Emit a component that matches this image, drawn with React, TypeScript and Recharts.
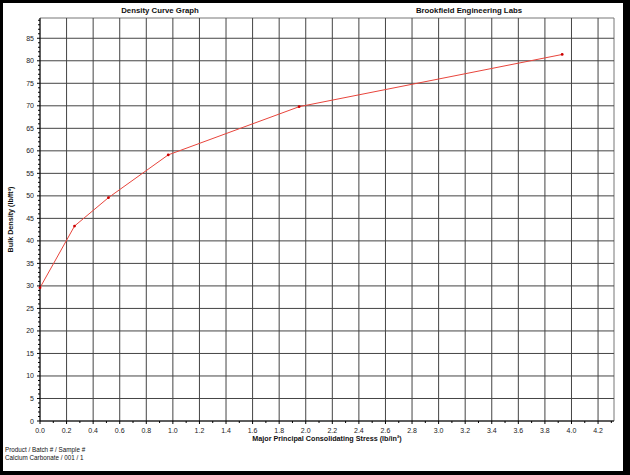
import React from 'react';
import { LineChart, Line, XAxis, YAxis, ReferenceLine, ReferenceArea, Label } from 'recharts';

const stress = [0, 0.26, 0.515, 0.965, 1.95, 3.93];
const density = [29.6, 43.3, 49.6, 59.1, 69.8, 81.4];

const xMajorTicks = [0, 0.2, 0.4, 0.6, 0.8, 1.0, 1.2, 1.4, 1.6, 1.8, 2.0, 2.2, 2.4, 2.6, 2.8, 3.0, 3.2, 3.4, 3.6, 3.8, 4.0, 4.2];
const yMajorTicks = [0, 5, 10, 15, 20, 25, 30, 35, 40, 45, 50, 55, 60, 65, 70, 75, 80, 85];

const X_MAX = 4.32;
const Y_MAX = 89.5;

// minor ticks sit between the labelled ones
const xTicks = xMajorTicks.flatMap((v) => [v, Math.round((v + 0.1) * 10) / 10]);
const yTicks = yMajorTicks.flatMap((v) => [v, v + 1, v + 2, v + 3, v + 4]);

const data = stress.map((s, i) => ({ stress: s, density: density[i] }));

const FONT = '"Liberation Sans", Arial, sans-serif';

const XTick = (props: any) => {
  const { x, y, payload } = props;
  const v = payload.value as number;
  const major = Math.round(v * 10) % 2 === 0;
  return (
    <g>
      <line x1={x} x2={x} y1={y} y2={y + (major ? 3 : 2)} stroke="#000" strokeWidth={1} />
      {major && (
        <text x={x} y={y + 11.5} textAnchor="middle" fontSize={7} fontFamily={FONT} fill="#222">
          {v.toFixed(1)}
        </text>
      )}
    </g>
  );
};

const YTick = (props: any) => {
  const { x, y, payload } = props;
  const v = payload.value as number;
  const major = v % 5 === 0;
  return (
    <g>
      <line x1={x - (major ? 3 : 2)} x2={x} y1={y} y2={y} stroke="#000" strokeWidth={1} />
      {major && (
        <text x={x - 6} y={y + 2.5} textAnchor="end" fontSize={7} fontFamily={FONT} fill="#222">
          {v}
        </text>
      )}
    </g>
  );
};

const App: React.FC = () => {
  return (
    <div style={{ position: 'absolute', left: 0, top: 0, width: 630, height: 475, background: '#000', fontFamily: FONT }}>
      <div style={{ position: 'absolute', left: 3, top: 3, width: 620, height: 468, background: '#fff' }} />
      <div style={{ position: 'absolute', left: 0, top: 0 }}>
        <LineChart width={630} height={475} data={data} margin={{ top: 18, right: 16, left: 0, bottom: 0 }}>
          <XAxis
            xAxisId={0}
            type="number"
            dataKey="stress"
            domain={[0, X_MAX]}
            ticks={xTicks}
            interval={0}
            height={54}
            tickSize={0}
            tickMargin={0}
            tickLine={false}
            tick={XTick}
            axisLine={{ stroke: '#000' }}
          >
            <Label
              value="Major Principal Consolidating Stress (lb/in²)"
              position="insideTop"
              offset={15}
              style={{ fontSize: 7.2, fontWeight: 'bold', fontFamily: FONT, fill: '#111' }}
            />
          </XAxis>
          <YAxis
            yAxisId={0}
            type="number"
            domain={[0, Y_MAX]}
            ticks={yTicks}
            interval={0}
            width={40}
            tickSize={0}
            tickMargin={0}
            tickLine={false}
            tick={YTick}
            axisLine={{ stroke: '#000' }}
          >
            <Label
              value="Bulk Density (lb/ft³)"
              angle={-90}
              position="insideLeft"
              offset={10}
              style={{ textAnchor: 'middle', fontSize: 7.2, fontWeight: 'bold', fontFamily: FONT, fill: '#111' }}
            />
          </YAxis>
          <ReferenceArea x1={0} x2={X_MAX} y1={0} y2={Y_MAX} fill="none" stroke="#777" strokeWidth={1} />
          {xMajorTicks.slice(1).map((v) => (
            <ReferenceLine key={'x' + v} x={v} stroke="#444" strokeWidth={1} />
          ))}
          {yMajorTicks.slice(1).map((v) => (
            <ReferenceLine key={'y' + v} y={v} stroke="#444" strokeWidth={1} />
          ))}
          <Line
            type="linear"
            dataKey="density"
            stroke="#e8453c"
            strokeWidth={1}
            dot={{ r: 1.4, fill: '#cc0000', stroke: 'none' }}
            activeDot={false}
            isAnimationActive={false}
          />
        </LineChart>
      </div>
      <div style={{ position: 'absolute', left: 160, top: 10, transform: 'translate(-50%, -50%)', fontSize: 7.8, fontWeight: 'bold', color: '#111', whiteSpace: 'nowrap' }}>
        Density Curve Graph
      </div>
      <div style={{ position: 'absolute', left: 469, top: 10, transform: 'translate(-50%, -50%)', fontSize: 7.8, fontWeight: 'bold', color: '#111', whiteSpace: 'nowrap' }}>
        Brookfield Engineering Labs
      </div>
      <div style={{ position: 'absolute', left: 5, top: 446, fontSize: 6.3, lineHeight: '8px', color: '#111', whiteSpace: 'nowrap' }}>
        <div>Product / Batch # / Sample #</div>
        <div>Calcium Carbonate / 001 / 1</div>
      </div>
    </div>
  );
};

export default App;
